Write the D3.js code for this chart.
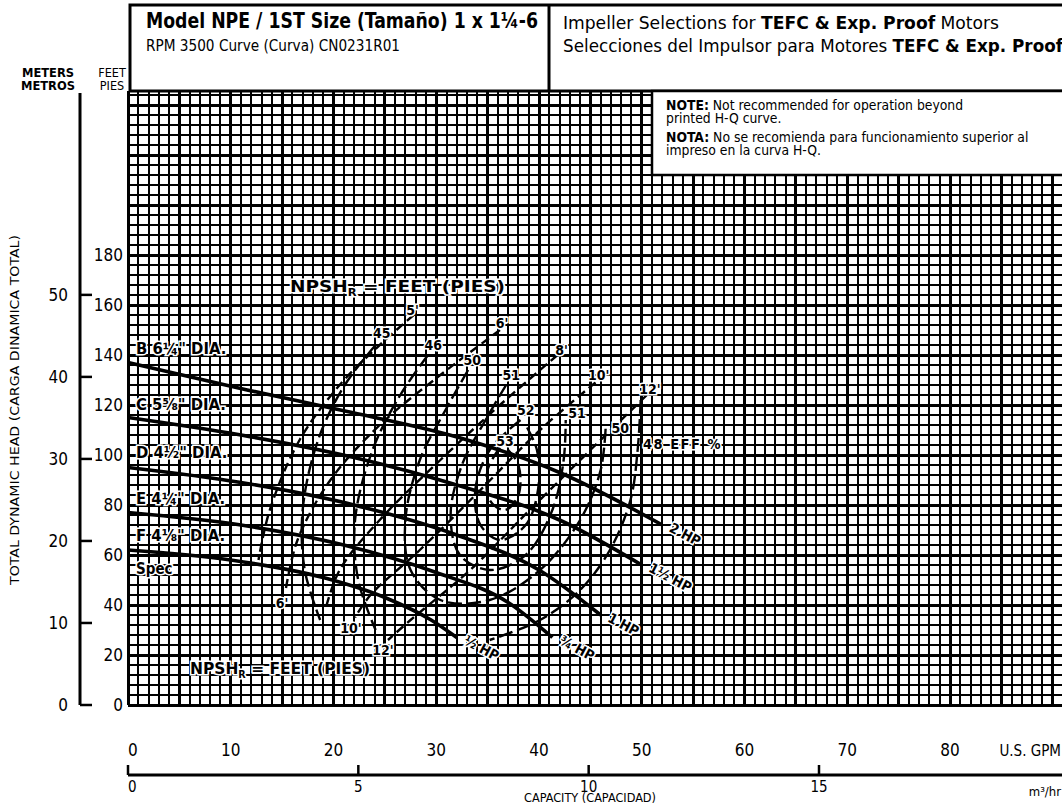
<!DOCTYPE html>
<html>
<head>
<meta charset="utf-8">
<script src="https://cdn.jsdelivr.net/npm/d3@7"></script>
<style>
  body { margin: 0; background: #fff; }
  svg { display: block; }
  text { font-family: "DejaVu Sans Condensed", "Liberation Sans", sans-serif; fill: #000; }
</style>
</head>
<body>
<div id="chart"></div>
<script>
// axis ticks
const gpmTicks = [0, 10, 20, 30, 40, 50, 60, 70, 80];
const feetTicks = [0, 20, 40, 60, 80, 100, 120, 140, 160, 180];
const meterTicks = [0, 10, 20, 30, 40, 50];
const m3Ticks = [0, 5, 10, 15];

// impeller H-Q curves, [gpm, feet]; each ends at the motor size it needs
const impellerLabels = ["B 6¼\" DIA.", "C 5⅝\" DIA.", "D 4½\" DIA.", "E 4¼\" DIA.", "F 4⅛\" DIA."];
const motorLabels = ["2 HP", "1½ HP", "1 HP", "¾ HP", "½ HP"];
const impellerB = [[0, 137], [11.6, 126], [21.8, 117], [32.2, 107], [42, 93], [52, 72]];
const impellerC = [[0, 115], [11, 108], [22, 99], [32, 88], [42, 74], [50, 56]];
const impellerD = [[0, 95], [11, 89], [22, 80], [32, 68], [40, 54], [46, 36]];
const impellerE = [[0, 77], [11, 72], [21, 64], [30, 53], [37, 41], [41.3, 27]];
const impellerF = [[0, 62], [10, 58], [19, 51], [25, 43], [29.5, 34], [32, 27]];
const impellers = [impellerB, impellerC, impellerD, impellerE, impellerF];

// efficiency curves (%), [gpm, feet]
const eff45 = [[24.1, 144], [21.1, 128], [18.5, 106], [17, 78], [17.2, 54], [18.7, 34]];
const eff46 = [[29.2, 140], [26.5, 124], [23.8, 102], [22.1, 74], [22.4, 50], [24.1, 30]];
const eff50 = [[33.1, 134], [30.9, 118], [28.4, 98], [27, 74], [27.5, 54], [30.4, 42], [35.2, 42], [40.1, 54], [44, 74], [46, 94], [46.5, 112]];
const eff51 = [[36.8, 128], [34.8, 114], [32.5, 96], [31.4, 76], [32.3, 60], [35.2, 54], [38.7, 60], [41.3, 78], [42.4, 98], [42.6, 114]];
const eff52 = [[38.2, 114], [35.2, 102], [33.8, 86], [34.3, 72], [36.2, 66], [38.7, 72], [39.9, 86], [39.8, 102], [38.7, 112]];
const eff53 = [[36.2, 103], [35, 94], [35.2, 82], [36.7, 78], [38, 84], [38, 96], [37, 102]];
const eff48 = [[49.9, 122], [49.6, 102], [48.9, 82], [46.9, 62], [44, 46], [40.1, 34], [35.2, 26]];
const effCurves = [eff45, eff46, eff50, eff51, eff52, eff53, eff48];
const effLabels = [["45", 24.7, 149], ["46", 29.7, 144], ["50", 33.5, 138], ["51", 37.3, 132],
  ["52", 38.7, 118], ["53", 36.7, 105.5], ["51", 43.7, 117], ["50", 47.9, 111]];

// NPSHr curves, [gpm, feet]
const npsh5 = [[27.8, 156], [24.5, 144], [20.6, 128], [16.7, 106], [13.8, 78], [12.7, 58]];
const npsh6 = [[36.2, 150], [30.4, 132], [24.5, 112], [19.7, 90], [16.5, 66], [15.3, 45]];
const npsh8 = [[41.8, 140], [36.2, 120], [30.4, 98], [24.5, 74], [20.6, 54], [19.2, 38]];
const npsh10 = [[45.5, 129], [40.1, 110], [34.3, 86], [28.4, 62], [23.6, 44], [22.1, 35]];
const npsh12 = [[50.5, 124], [45, 102], [39.1, 78], [33.3, 54], [27.5, 34], [25.3, 26]];
const npshCurves = [npsh5, npsh6, npsh8, npsh10, npsh12];
const npshTop = [["5'", 27.7, 158], ["6'", 36.4, 153], ["8'", 42.2, 142], ["10'", 45.8, 132], ["12'", 50.8, 126.5]];
const npshBottom = [["6'", 15, 41], ["10'", 21.7, 31], ["12'", 24.8, 22]];

const W = 1062, H = 804;
const svg = d3.select("#chart").append("svg").attr("width", W).attr("height", H);

const x = d3.scaleLinear().domain([0, 90.9]).range([128, 1062]);
const y = d3.scaleLinear().domain([0, 250]).range([705, 80]);
const yM = d3.scaleLinear().domain([0, 50]).range([y(0), y(50 * 3.281)]);
const xM = d3.scaleLinear().domain([0, 15]).range([128, 819]);
const hdrBottom = 91;
const topFt = 244;

// grid
const grid = svg.append("g").attr("shape-rendering", "crispEdges");
grid.selectAll(".vl").data(d3.range(0, 91)).enter().append("line")
  .attr("x1", d => x(d)).attr("x2", d => x(d))
  .attr("y1", y(0)).attr("y2", hdrBottom)
  .attr("stroke", "#000").attr("stroke-width", d => d % 5 === 0 ? 3 : 2);
grid.selectAll(".hl").data(d3.range(0, topFt + 1, 4)).enter().append("line")
  .attr("x1", x(0)).attr("x2", W)
  .attr("y1", d => y(d)).attr("y2", d => y(d))
  .attr("stroke", "#000").attr("stroke-width", d => d % 20 === 0 ? 3 : 2);

// curves
const line = d3.line().x(d => x(d[0])).y(d => y(d[1])).curve(d3.curveMonotoneX);
const lineC = d3.line().x(d => x(d[0])).y(d => y(d[1])).curve(d3.curveCatmullRom);
const curves = svg.append("g").attr("fill", "none").attr("stroke", "#000");
effCurves.forEach(c =>
  curves.append("path").attr("d", lineC(c)).attr("stroke-width", 2.4).attr("stroke-dasharray", "14,5"));
npshCurves.forEach(c =>
  curves.append("path").attr("d", lineC(c)).attr("stroke-width", 2.4).attr("stroke-dasharray", "9,5"));
impellers.forEach(c => curves.append("path").attr("d", line(c)).attr("stroke-width", 3.6));

// labels with white halo
function label(g, tx, ty, txt, size, anchor) {
  return g.append("text").attr("x", tx).attr("y", ty).text(txt)
    .attr("font-size", size).attr("font-weight", "bold")
    .attr("text-anchor", anchor || "start")
    .attr("stroke", "#fff").attr("stroke-width", 3).attr("paint-order", "stroke");
}
const lab = svg.append("g");
const impLabelY = [354, 410, 458, 504, 541];
impellerLabels.forEach((t, i) => label(lab, 136, impLabelY[i], t, 16.5));
label(lab, 136, 574, "Spec", 15);
motorLabels.forEach((t, i) => {
  const e = impellers[i][impellers[i].length - 1];
  label(lab, 0, 0, t, 14).attr("transform", `translate(${x(e[0]) + 6},${y(e[1]) + 6}) rotate(28)`);
});
effLabels.forEach(r => label(lab, x(r[1]), y(r[2]) + 5, r[0], 14, "middle"));
label(lab, 643, 449, "48 EFF %", 14.5).attr("letter-spacing", 1.5);
npshTop.forEach(r => label(lab, x(r[1]), y(r[2]) + 5, r[0], 14, "middle"));
npshBottom.forEach(r => label(lab, x(r[1]), y(r[2]) + 5, r[0], 14, "middle"));
const n1 = label(lab, 290, 292, "NPSH", 16);
n1.append("tspan").attr("font-size", 10).attr("dy", 4).text("R");
n1.append("tspan").attr("dy", -4).text(" = FEET (PIES)");
n1.attr("textLength", 215).attr("lengthAdjust", "spacingAndGlyphs");
const n2 = label(lab, 190, 674, "NPSH", 16);
n2.append("tspan").attr("font-size", 10).attr("dy", 4).text("R");
n2.append("tspan").attr("dy", -4).text(" = FEET (PIES)");
n2.attr("textLength", 180).attr("lengthAdjust", "spacingAndGlyphs");

// header boxes
const hdr = svg.append("g");
hdr.append("rect").attr("x", 130).attr("y", 5).attr("width", W - 128).attr("height", hdrBottom - 5)
  .attr("fill", "#fff").attr("stroke", "#000").attr("stroke-width", 3);
hdr.append("line").attr("x1", 549).attr("x2", 549).attr("y1", 5).attr("y2", hdrBottom)
  .attr("stroke", "#000").attr("stroke-width", 3);
hdr.append("text").attr("x", 146).attr("y", 28).attr("font-size", 20.5).attr("font-weight", "bold")
  .attr("textLength", 392).attr("lengthAdjust", "spacingAndGlyphs")
  .text("Model NPE / 1ST Size (Tamaño) 1 x 1¼-6");
hdr.append("text").attr("x", 146).attr("y", 51).attr("font-size", 16.5)
  .attr("textLength", 254).attr("lengthAdjust", "spacingAndGlyphs")
  .text("RPM 3500 Curve (Curva) CN0231R01");
const t1 = hdr.append("text").attr("x", 563).attr("y", 29).attr("font-size", 17.5)
  .attr("textLength", 436).attr("lengthAdjust", "spacingAndGlyphs");
t1.append("tspan").text("Impeller Selections for ");
t1.append("tspan").attr("font-weight", "bold").text("TEFC & Exp. Proof");
t1.append("tspan").text(" Motors");
const t2 = hdr.append("text").attr("x", 563).attr("y", 52).attr("font-size", 17.5)
  .attr("textLength", 500).attr("lengthAdjust", "spacingAndGlyphs");
t2.append("tspan").text("Selecciones del Impulsor para Motores ");
t2.append("tspan").attr("font-weight", "bold").text("TEFC & Exp. Proof");

// note box
const nb = svg.append("g");
nb.append("rect").attr("x", 652).attr("y", hdrBottom).attr("width", W - 650).attr("height", 84)
  .attr("fill", "#fff").attr("stroke", "#000").attr("stroke-width", 2.5);
const noteLines = [
  ["NOTE:", " Not recommended for operation beyond"],
  ["", "printed H-Q curve."],
  ["NOTA:", " No se recomienda para funcionamiento superior al"],
  ["", "impreso en la curva H-Q."]
];
const noteY = [110, 123, 142, 155];
noteLines.forEach((l, i) => {
  const t = nb.append("text").attr("x", 666).attr("y", noteY[i]).attr("font-size", 13.8);
  t.append("tspan").attr("font-weight", "bold").text(l[0]);
  t.append("tspan").text(l[1]);
});

// left axes
const ax = svg.append("g");
ax.append("line").attr("x1", 80).attr("x2", 80).attr("y1", 93).attr("y2", y(0))
  .attr("stroke", "#000").attr("stroke-width", 3);
ax.selectAll(".mt").data(meterTicks).enter().append("line")
  .attr("x1", 80).attr("x2", 92).attr("y1", d => yM(d)).attr("y2", d => yM(d))
  .attr("stroke", "#000").attr("stroke-width", 2.5);
ax.selectAll(".ml").data(meterTicks).enter().append("text")
  .attr("x", 68).attr("y", d => yM(d) + 6).attr("text-anchor", "end")
  .attr("font-size", 17).text(d => d);
ax.selectAll(".fl").data(feetTicks).enter().append("text")
  .attr("x", 123).attr("y", d => y(d) + 6).attr("text-anchor", "end")
  .attr("font-size", 17).text(d => d);
ax.append("text").attr("x", 48).attr("y", 77).attr("text-anchor", "middle").attr("font-size", 12.5).attr("font-weight", "bold")
  .attr("textLength", 52).attr("lengthAdjust", "spacingAndGlyphs").text("METERS");
ax.append("text").attr("x", 48).attr("y", 90).attr("text-anchor", "middle").attr("font-size", 12.5).attr("font-weight", "bold")
  .attr("textLength", 54).attr("lengthAdjust", "spacingAndGlyphs").text("METROS");
ax.append("text").attr("x", 112).attr("y", 77).attr("text-anchor", "middle").attr("font-size", 12.5).text("FEET");
ax.append("text").attr("x", 112).attr("y", 90).attr("text-anchor", "middle").attr("font-size", 12.5).text("PIES");
ax.append("text").attr("transform", "translate(19,410) rotate(-90)").attr("text-anchor", "middle")
  .attr("font-size", 13).attr("textLength", 350).attr("lengthAdjust", "spacingAndGlyphs")
  .text("TOTAL DYNAMIC HEAD (CARGA DINAMICA TOTAL)");

// bottom axes
ax.selectAll(".gl").data(gpmTicks).enter().append("text")
  .attr("x", d => x(d)).attr("y", 756).attr("text-anchor", d => d === 0 ? "start" : "middle")
  .attr("font-size", 17).text(d => d);
ax.append("text").attr("x", 1061).attr("y", 756).attr("text-anchor", "end").attr("font-size", 15).text("U.S. GPM");
ax.append("line").attr("x1", 128).attr("x2", W).attr("y1", 775).attr("y2", 775)
  .attr("stroke", "#000").attr("stroke-width", 3);
ax.selectAll(".m3t").data(m3Ticks).enter().append("line")
  .attr("x1", d => xM(d)).attr("x2", d => xM(d)).attr("y1", 765).attr("y2", 775)
  .attr("stroke", "#000").attr("stroke-width", 2.5);
ax.selectAll(".m3l").data(m3Ticks).enter().append("text")
  .attr("x", d => xM(d)).attr("y", 792).attr("text-anchor", d => d === 0 ? "start" : "middle")
  .attr("font-size", 15).text(d => d);
ax.append("text").attr("x", 1061).attr("y", 796).attr("text-anchor", "end").attr("font-size", 13).text("m³/hr");
ax.append("text").attr("x", 590).attr("y", 802).attr("text-anchor", "middle").attr("font-size", 11.5)
  .attr("textLength", 132).attr("lengthAdjust", "spacingAndGlyphs").text("CAPACITY (CAPACIDAD)");
</script>
</body>
</html>
